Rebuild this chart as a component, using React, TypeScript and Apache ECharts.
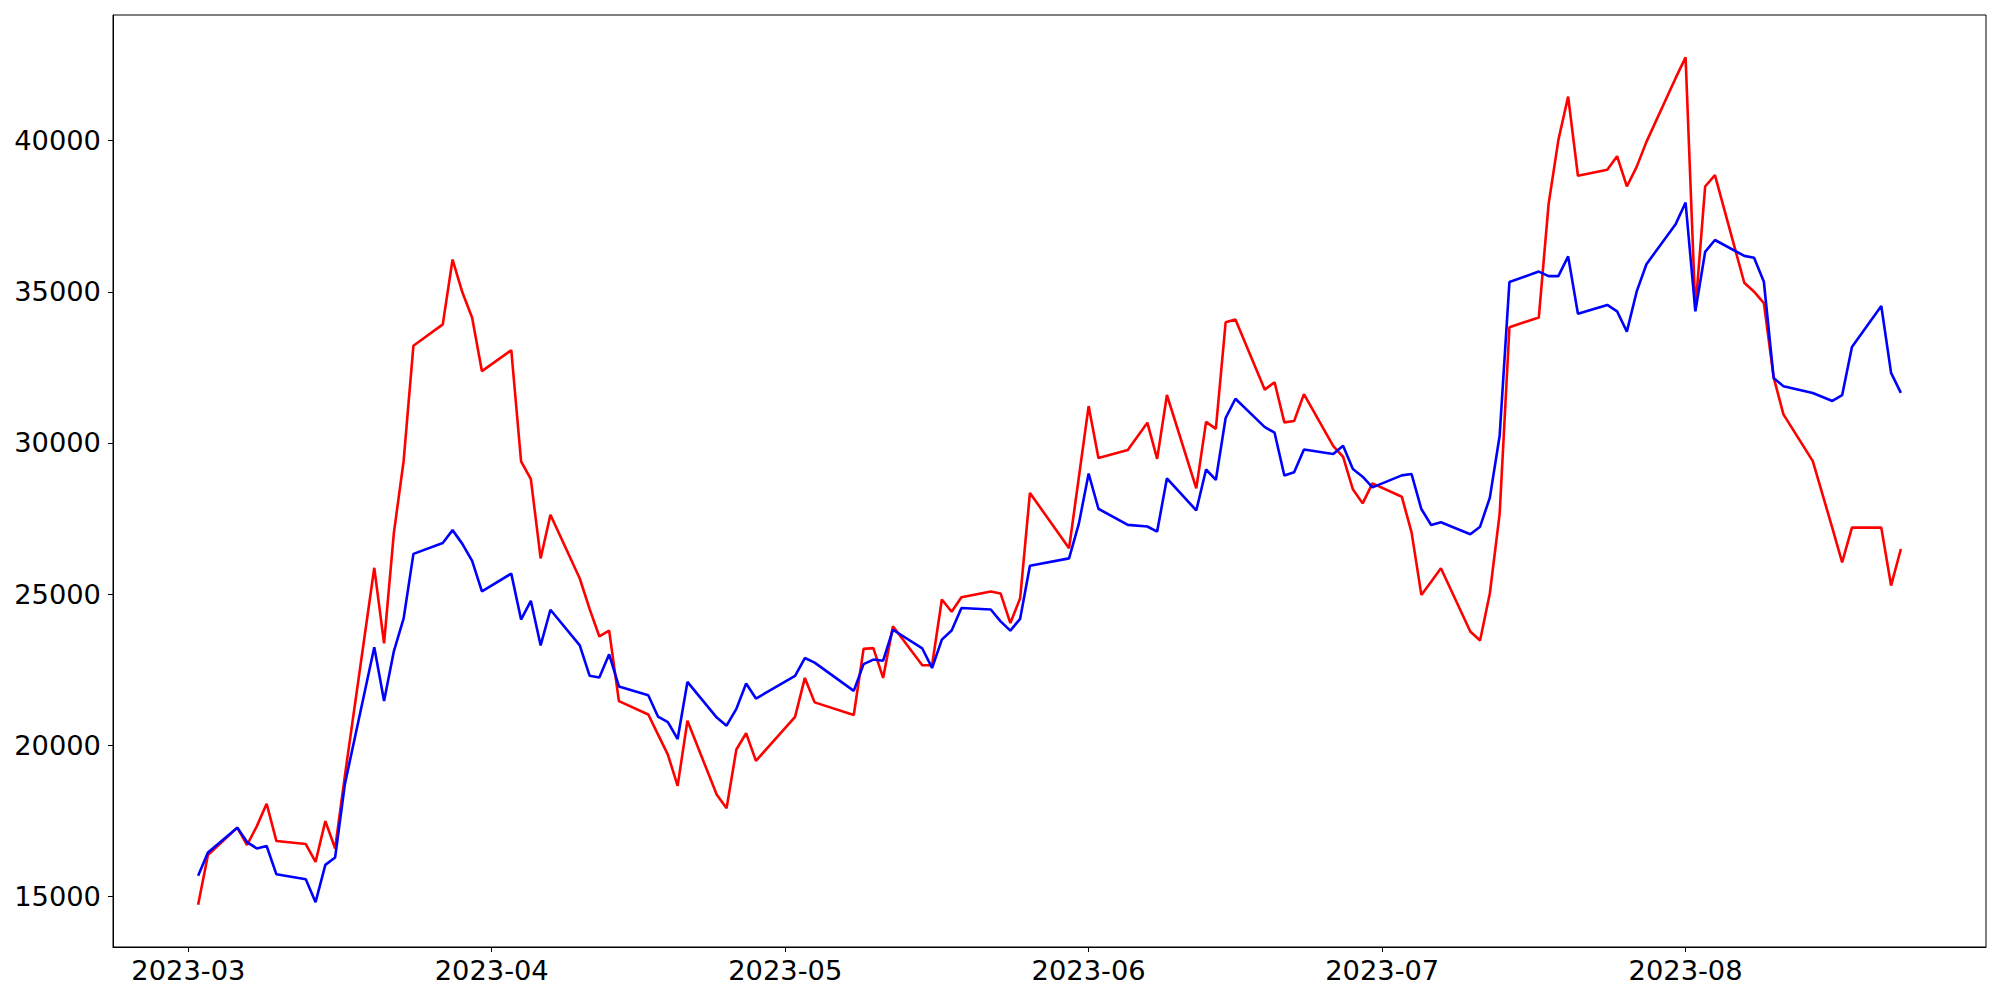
import React, { useEffect, useRef } from "react";
import * as echarts from "echarts";

const dates: string[] = [
  "2023-03-02", "2023-03-03", "2023-03-06", "2023-03-07", "2023-03-08", "2023-03-09", "2023-03-10",
  "2023-03-13", "2023-03-14", "2023-03-15", "2023-03-16", "2023-03-17", "2023-03-20", "2023-03-21",
  "2023-03-22", "2023-03-23", "2023-03-24", "2023-03-27", "2023-03-28", "2023-03-29", "2023-03-30",
  "2023-03-31",
  "2023-04-03", "2023-04-04", "2023-04-05", "2023-04-06", "2023-04-07", "2023-04-10", "2023-04-11",
  "2023-04-12", "2023-04-13", "2023-04-14", "2023-04-17", "2023-04-18", "2023-04-19", "2023-04-20",
  "2023-04-21", "2023-04-24", "2023-04-25", "2023-04-26", "2023-04-27", "2023-04-28",
  "2023-05-02", "2023-05-03", "2023-05-04", "2023-05-08", "2023-05-09", "2023-05-10", "2023-05-11",
  "2023-05-12", "2023-05-15", "2023-05-16", "2023-05-17", "2023-05-18", "2023-05-19", "2023-05-22",
  "2023-05-23", "2023-05-24", "2023-05-25", "2023-05-26", "2023-05-30", "2023-05-31",
  "2023-06-01", "2023-06-02", "2023-06-05", "2023-06-07", "2023-06-08", "2023-06-09", "2023-06-12",
  "2023-06-13", "2023-06-14", "2023-06-15", "2023-06-16", "2023-06-19", "2023-06-20", "2023-06-21",
  "2023-06-22", "2023-06-23", "2023-06-26", "2023-06-27", "2023-06-28", "2023-06-29", "2023-06-30",
  "2023-07-03", "2023-07-04", "2023-07-05", "2023-07-06", "2023-07-07", "2023-07-10", "2023-07-11",
  "2023-07-12", "2023-07-13", "2023-07-14", "2023-07-17", "2023-07-18", "2023-07-19", "2023-07-20",
  "2023-07-21", "2023-07-24", "2023-07-25", "2023-07-26", "2023-07-27", "2023-07-28", "2023-07-31",
  "2023-08-01", "2023-08-02", "2023-08-03", "2023-08-04", "2023-08-07", "2023-08-08", "2023-08-09",
  "2023-08-10", "2023-08-11", "2023-08-14", "2023-08-16", "2023-08-17", "2023-08-18", "2023-08-21",
  "2023-08-22", "2023-08-23",
];

const redValues: number[] = [
  14722, 16366, 17270, 16695, 17320, 18059, 16826,
  16728, 16136, 17484, 16580, 19000, 25868, 23370,
  27019, 29403, 33217, 33924, 36070, 34985, 34140,
  32375,
  33068, 29394, 28804, 26178, 27624, 25514, 24510,
  23596, 23788, 21457, 21014, 20350, 19686, 18653,
  20807, 18357, 17910, 19855, 20392, 19480,
  20935, 22225, 21415, 20998, 23186, 23211, 22225,
  23932, 22642, 22642, 24818, 24413, 24893, 25083,
  25020, 24040, 24860, 28344, 26515, 28865,
  31220, 29504, 29763, 30670, 29473, 31586, 28495,
  30698, 30466, 33991, 34083, 31764, 32008, 30680,
  30727, 31614, 29896, 29543, 28464, 28000, 28661,
  28221, 27042, 24971, 25410, 25852, 23759, 23462,
  25026, 27650, 33830, 34150, 37897, 40021, 41461,
  38841, 39041, 39490, 38487, 39136, 39962, 42087,
  42759, 34400, 38486, 38860, 35300, 35005, 34625,
  32171, 30946, 29397, 27184, 26048, 27198, 27198,
  25280, 26490,
];

const blueValues: number[] = [
  15676, 16448, 17270, 16793, 16580, 16662, 15725,
  15561, 14804, 16037, 16284, 18717, 23238, 21462,
  23106, 24192, 26329, 26690, 27115, 26660, 26100,
  25086,
  25676, 24156, 24776, 23300, 24481, 23300, 22297,
  22238, 23005, 21943, 21648, 20940, 20763, 20203,
  22091, 20911, 20645, 21200, 22040, 21542,
  22288, 22883, 22731, 21795, 22680, 22832, 22794,
  23818, 23199, 22554, 23490, 23793, 24539, 24489,
  24097, 23790, 24180, 25933, 26180, 27330,
  28985, 27822, 27288, 27235, 27066, 28830, 27765,
  29121, 28774, 30825, 31463, 30524, 30339, 28920,
  29030, 29785, 29631, 29906, 29135, 28882, 28529,
  28926, 28970, 27813, 27285, 27373, 26976, 27229,
  28190, 30240, 35325, 35670, 35520, 35520, 36174,
  34276, 34568, 34356, 33683, 35005, 35914, 37248,
  37956, 34356, 36320, 36715, 36190, 36125, 35334,
  32150, 31876, 31655, 31389, 31581, 33175, 34532,
  32319, 31655,
];

const monthTicks: string[] = ["2023-03-01", "2023-04-01", "2023-05-01", "2023-06-01", "2023-07-01", "2023-08-01"];
const yTicks: number[] = [15000, 20000, 25000, 30000, 35000, 40000];

const toTs = (d: string) => {
  const [y, m, dd] = d.split("-").map(Number);
  return Date.UTC(y, m - 1, dd);
};

const fmtMonth = (v: number) => {
  const d = new Date(v);
  const m = d.getUTCMonth() + 1;
  return `${d.getUTCFullYear()}-${m < 10 ? "0" + m : m}`;
};

export default function App() {
  const ref = useRef<HTMLDivElement>(null);

  useEffect(() => {
    if (!ref.current) return;
    const chart = echarts.init(ref.current, undefined, { renderer: "svg" });

    const ts = dates.map(toTs);
    const xFirst = ts[0];
    const xLast = ts[ts.length - 1];
    const xPad = (xLast - xFirst) * 0.05;
    const all = [...redValues, ...blueValues];
    const yMinD = Math.min(...all);
    const yMaxD = Math.max(...all);
    const yPad = (yMaxD - yMinD) * 0.05;
    const monthTs = monthTicks.map(toTs);

    const labelStyle = {
      color: "#000",
      fontFamily: "DejaVu Sans",
      fontSize: 27.3,
    };

    chart.setOption({
      animation: false,
      backgroundColor: "#fff",
      grid: {
        left: 113,
        right: 14,
        top: 15,
        bottom: 53,
        show: true,
        borderColor: "#000",
        borderWidth: 1,
        backgroundColor: "transparent",
        containLabel: false,
        outerBoundsMode: "none",
      },
      xAxis: {
        type: "value",
        min: xFirst - xPad,
        max: xLast + xPad,
        scale: true,
        axisLine: { show: true, onZero: false, lineStyle: { color: "#000", width: 1 } },
        axisTick: {
          show: true,
          length: 5,
          lineStyle: { color: "#000", width: 1 },
          customValues: monthTs,
        },
        axisLabel: {
          ...labelStyle,
          margin: 10,
          customValues: monthTs,
          formatter: (v: number) => fmtMonth(v),
        },
        splitLine: { show: false },
      },
      yAxis: {
        type: "value",
        min: yMinD - yPad,
        max: yMaxD + yPad,
        scale: true,
        axisLine: { show: true, onZero: false, lineStyle: { color: "#000", width: 1 } },
        axisTick: {
          show: true,
          length: 5,
          lineStyle: { color: "#000", width: 1 },
          customValues: yTicks,
        },
        axisLabel: {
          ...labelStyle,
          margin: 12,
          customValues: yTicks,
          formatter: (v: number) => String(v),
        },
        splitLine: { show: false },
      },
      series: [
        {
          type: "line",
          name: "red",
          data: ts.map((t, i) => [t, redValues[i]]),
          showSymbol: false,
          symbol: "none",
          lineStyle: { color: "#ff0000", width: 2.6 },
          itemStyle: { color: "#ff0000" },
          silent: true,
          z: 2,
        },
        {
          type: "line",
          name: "blue",
          data: ts.map((t, i) => [t, blueValues[i]]),
          showSymbol: false,
          symbol: "none",
          lineStyle: { color: "#0000ff", width: 2.6 },
          itemStyle: { color: "#0000ff" },
          silent: true,
          z: 3,
        },
      ],
    });

    return () => {
      chart.dispose();
    };
  }, []);

  return (
    <div
      ref={ref}
      style={{ position: "absolute", left: 0, top: 0, width: 2000, height: 1000, background: "#fff" }}
    />
  );
}
